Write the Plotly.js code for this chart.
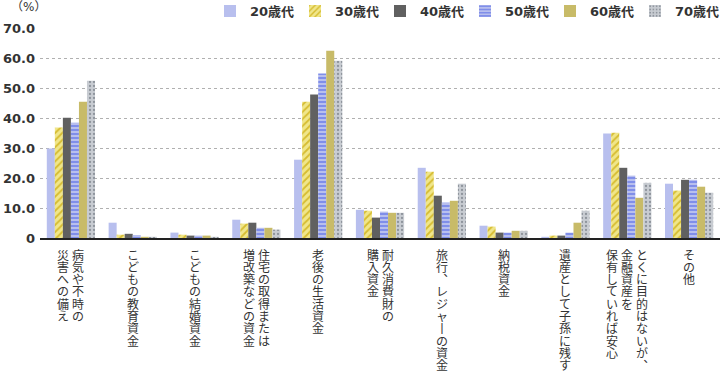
<!DOCTYPE html>
<html><head><meta charset="utf-8">
<script src="https://cdn.plot.ly/plotly-3.0.1.min.js"></script>
<style>html,body{margin:0;padding:0;background:#fff}#c{width:720px;height:372px}</style>
</head><body><div id="c"></div>
<script>
// Category labels (each entry: lines of vertical text, first line is rightmost column)
const categories = [
  ["病気や不時の", "災害への備え"],
  ["こどもの教育資金"],
  ["こどもの結婚資金"],
  ["住宅の取得または", "増改築などの資金"],
  ["老後の生活資金"],
  ["耐久消費財の", "購入資金"],
  ["旅行、レジャーの資金"],
  ["納税資金"],
  ["遺産として子孫に残す"],
  ["とくに目的はないが、", "金融資産を", "保有していれば安心"],
  ["その他"]
];
const seriesNames = ["20歳代", "30歳代", "40歳代", "50歳代", "60歳代", "70歳代"];
const age20 = [29.8, 5.1, 1.8, 6.1, 26.1, 9.4, 23.4, 4.1, 0.4, 34.8, 18.1];
const age30 = [36.8, 1.1, 1.1, 4.8, 45.4, 9.1, 22.1, 3.8, 0.8, 35.1, 15.8];
const age40 = [40.1, 1.4, 0.8, 5.1, 47.8, 6.8, 14.1, 1.8, 0.8, 23.4, 19.4];
const age50 = [38.4, 1.0, 0.8, 3.4, 54.8, 8.8, 11.8, 1.8, 1.8, 20.8, 19.4];
const age60 = [45.4, 0.4, 0.8, 3.4, 62.4, 8.4, 12.4, 2.4, 5.1, 13.4, 17.1];
const age70 = [52.4, 0.4, 0.4, 2.8, 59.1, 8.4, 18.1, 2.4, 9.1, 18.4, 15.1];
const yTickVals = [0, 10, 20, 30, 40, 50, 60, 70];
const yTickText = ["0", "10.0", "20.0", "30.0", "40.0", "50.0", "60.0", "70.0"];

const allValues = [age20, age30, age40, age50, age60, age70];
const styles = [
  {color: "#b8bfee"},
  {color: "#f0e68a", pattern: {shape: "/", fgcolor: "#d6bc30", bgcolor: "#f0e68a", size: 5, solidity: 0.35}},
  {color: "#606060"},
  {color: "#b8bfee", pattern: {shape: "-", fgcolor: "#5a6ee6", bgcolor: "#b8bfee", size: 4, solidity: 0.3}},
  {color: "#c8bb68"},
  {color: "#c8ccd2", pattern: {shape: ".", fgcolor: "#8e949c", bgcolor: "#c8ccd2", size: 4, solidity: 0.25}}
];

const xIdx = categories.map((c, i) => i);
const traces = seriesNames.map((n, k) => ({
  type: "bar",
  name: n,
  x: xIdx,
  y: allValues[k],
  marker: Object.assign({line: {width: 0}}, styles[k]),
  hoverinfo: "y+name"
}));

// vertical-writing forms for punctuation / long vowel mark
const vertMap = {"、": "︑", "ー": "丨"};
const annotations = [];
const colGap = 15, charStep = 12.3;
categories.forEach((lines, i) => {
  const n = lines.length;
  lines.forEach((line, j) => {
    const xs = ((n - 1) / 2 - j) * colGap;
    Array.from(line).forEach((ch, k) => {
      annotations.push({
        xref: "x", yref: "paper", x: i, y: 0,
        xanchor: "center", yanchor: "middle",
        xshift: xs, yshift: -(16 + k * charStep),
        text: vertMap[ch] || ch, showarrow: false, borderpad: 0,
        font: {family: "Noto Sans CJK JP", size: 12, color: "#333"}
      });
    });
  });
});
annotations.push({
  xref: "paper", yref: "paper", x: -0.046, y: 1.1, xanchor: "left", yanchor: "middle",
  text: "（%）", showarrow: false,
  font: {family: "DejaVu Sans, Noto Sans CJK JP", size: 12, color: "#333"}
});

const layout = {
  width: 720, height: 372,
  margin: {l: 40, r: 0, t: 28, b: 134, autoexpand: false},
  paper_bgcolor: "#fff", plot_bgcolor: "#fff",
  barmode: "group", bargap: 0.22, bargroupgap: 0,
  showlegend: true,
  legend: {
    orientation: "h", xref: "container", yref: "container",
    x: 1, xanchor: "right", y: 0.97, yanchor: "middle",
    entrywidth: 40, entrywidthmode: "pixels", itemwidth: 30,
    font: {family: "DejaVu Sans, Noto Sans CJK JP", size: 13, color: "#333", weight: "bold"},
    bgcolor: "rgba(0,0,0,0)", traceorder: "normal"
  },
  xaxis: {
    range: [-0.5, categories.length - 0.5],
    showticklabels: false, ticks: "", showgrid: false, zeroline: false,
    showline: true, linecolor: "#222", linewidth: 2, fixedrange: true
  },
  yaxis: {
    range: [0, 70], tickvals: yTickVals, ticktext: yTickText,
    showgrid: true, gridcolor: "#b0b0b0", griddash: "dot", gridwidth: 1,
    zeroline: false, showline: false, ticks: "", ticklabelstandoff: 4,
    tickfont: {family: "DejaVu Sans", size: 13, color: "#333", weight: "bold"},
    fixedrange: true
  },
  annotations: annotations
};
Plotly.newPlot("c", traces, layout, {displayModeBar: false, staticPlot: true});
</script></body></html>
